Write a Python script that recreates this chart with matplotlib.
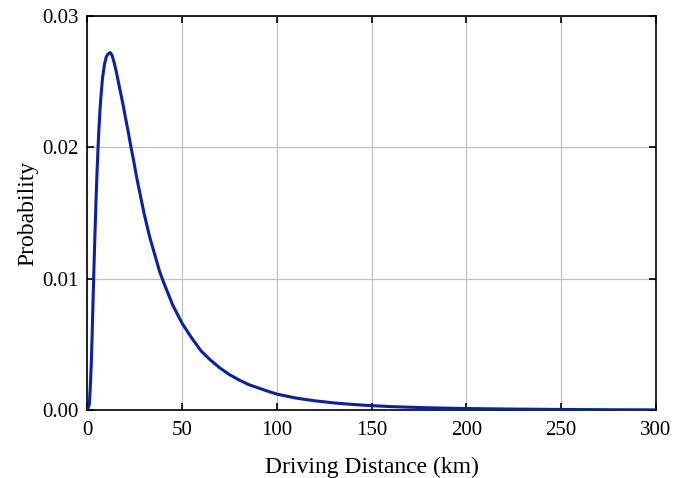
import matplotlib
matplotlib.use("Agg")
import matplotlib.pyplot as plt

# Driving distance (km) and probability
distance = [0, 1, 1.5, 2, 2.5, 3, 3.5, 4, 4.5, 5, 5.5, 6, 6.5, 7, 7.5, 8, 9,
            10, 11, 12, 13, 14, 15, 16, 17, 18, 19, 20, 21.5, 23, 24.5, 26,
            28, 30, 33, 35, 38, 40, 42.5, 45, 47.5, 50, 55, 60, 65, 70, 75,
            80, 85, 90, 95, 100, 110, 120, 130, 140, 150, 160, 170, 180,
            190, 200, 225, 250, 275, 300]
probability = [0.0, 0.00045, 0.0017, 0.0034, 0.0058, 0.0085, 0.0111, 0.0135,
               0.0158, 0.0178, 0.0196, 0.0212, 0.0225, 0.0236, 0.0245,
               0.0253, 0.0263, 0.0269, 0.0271, 0.0272, 0.0270, 0.0265,
               0.0259, 0.0252, 0.0245, 0.0238, 0.0231, 0.0223, 0.0212,
               0.0200, 0.0189, 0.0177, 0.0163, 0.0149, 0.0131, 0.0121,
               0.0106, 0.0098, 0.0089, 0.0080, 0.0073, 0.0066, 0.0055,
               0.0045, 0.0038, 0.0032, 0.0027, 0.0023, 0.00195, 0.0017,
               0.00145, 0.00122, 0.00092, 0.00071, 0.00055, 0.00043,
               0.00034, 0.00027, 0.00022, 0.00018, 0.00015, 0.00012,
               0.00008, 0.00005, 0.00003, 0.00002]

xticks = [0, 50, 100, 150, 200, 250, 300]
yticks = [0.00, 0.01, 0.02, 0.03]

plt.rcParams['font.family'] = ['Liberation Serif', 'DejaVu Serif']

fig = plt.figure(figsize=(6.83, 4.78), dpi=100)
ax = fig.add_axes([0.128, 0.142, 0.832, 0.825])

ax.plot(distance, probability, color='#0a20a6', linewidth=2.2,
        solid_joinstyle='round', zorder=3)

ax.set_xlim(0, 300)
ax.set_ylim(0, 0.03)
ax.set_xticks(xticks)
ax.set_yticks(yticks)
ax.set_yticklabels(['%.2f' % v for v in yticks])
ax.grid(True, color='#c0c0c0', linewidth=0.9)
ax.tick_params(direction='in', top=True, right=True, length=5, width=1.2,
               labelsize=15)
ax.tick_params(axis='x', pad=8)
ax.tick_params(axis='y', pad=6)
for s in ax.spines.values():
    s.set_linewidth(1.2)

ax.set_xlabel('Driving Distance (km)', fontsize=17, labelpad=12)
ax.set_ylabel('Probability', fontsize=17, labelpad=3)

fig.savefig('out.png', dpi=100)
